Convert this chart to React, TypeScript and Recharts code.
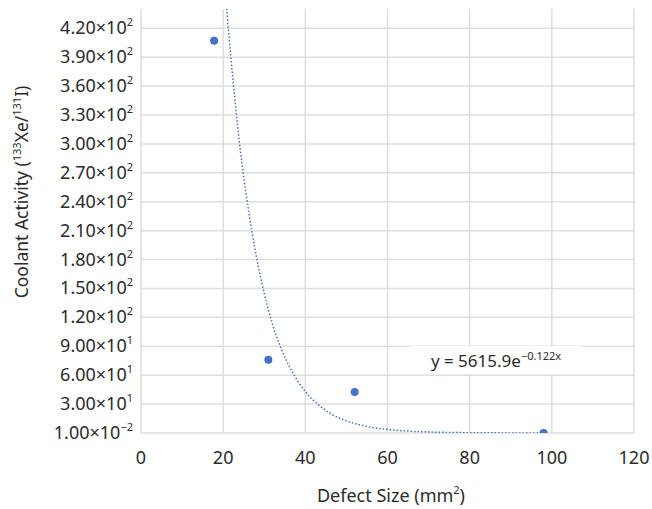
import { ComposedChart, Scatter, Line, XAxis, YAxis, CartesianGrid, Customized } from 'recharts';

const points = [
  { x: 17.8, y: 407 },
  { x: 31, y: 76 },
  { x: 52, y: 42.5 },
  { x: 98, y: 0.01 },
];

// exponential trendline, y = 5615.9e^-0.122x
const trend = [
  { x: 20.8, y: 444 }, { x: 21, y: 433 }, { x: 22, y: 384 }, { x: 23, y: 340 }, { x: 24, y: 300 },
  { x: 26, y: 236 }, { x: 28, y: 185 }, { x: 30, y: 145 }, { x: 32, y: 113 },
  { x: 34, y: 89 }, { x: 36, y: 70 }, { x: 38, y: 55 }, { x: 40, y: 43 },
  { x: 43, y: 30 }, { x: 46, y: 20.5 }, { x: 50, y: 12.6 }, { x: 55, y: 6.8 },
  { x: 60, y: 3.7 }, { x: 65, y: 2.0 }, { x: 70, y: 1.1 }, { x: 80, y: 0.32 },
  { x: 90, y: 0.1 }, { x: 98, y: 0.04 },
];

const xTicks = [0, 20, 40, 60, 80, 100, 120];
const yTicks = [0.01, 30, 60, 90, 120, 150, 180, 210, 240, 270, 300, 330, 360, 390, 420];

const FONT = '"Noto Sans", sans-serif';
const TXT = '#2b2b2b';
const BLUE = '#4472C4';

const YTick = ({ x, y, payload }: any) => {
  const [m, e] = Number(payload.value).toExponential(2).split('e');
  const exp = String(Number(e)).replace('-', '−');
  return (
    <text x={x} y={y} dy={6} textAnchor="end" fontSize={18} fill={TXT} fontFamily={FONT}>
      <tspan>{m}×10</tspan>
      <tspan dy={-8} fontSize={11}>{exp}</tspan>
    </text>
  );
};

const Annotations = () => (
  <g fontFamily={FONT} fill={TXT}>
    <rect x={409} y={346} width={174} height={28} fill="#fff" />
    <text x={496} y={367} textAnchor="middle" fontSize={17}>
      <tspan>y = 5615.9e</tspan>
      <tspan dy={-7} fontSize={11}>−0.122x</tspan>
    </text>
    <text x={391} y={502} textAnchor="middle" fontSize={18}>
      <tspan>Defect Size (mm</tspan>
      <tspan dy={-8} fontSize={11}>2</tspan>
      <tspan dy={8}>)</tspan>
    </text>
    <text transform="translate(28,192) rotate(-90)" textAnchor="middle" fontSize={17.5}>
      <tspan>Coolant Activity (</tspan>
      <tspan dy={-7} fontSize={11}>133</tspan>
      <tspan dy={7}>Xe/</tspan>
      <tspan dy={-7} fontSize={11}>131</tspan>
      <tspan dy={7}>I)</tspan>
    </text>
  </g>
);

export default function App() {
  return (
    <div style={{ position: 'absolute', left: 0, top: 0, background: '#fff' }}>
      <ComposedChart width={652} height={509} margin={{ top: 9, right: 18, bottom: 46, left: 0 }}>
        <CartesianGrid stroke="#dedede" strokeWidth={1.5} horizontalValues={yTicks} verticalValues={xTicks} />
        <XAxis
          type="number"
          dataKey="x"
          domain={[0, 120]}
          ticks={xTicks}
          axisLine={false}
          tickLine={false}
          height={30}
          tickMargin={12}
          tick={{ fontSize: 18, fill: TXT, fontFamily: FONT }}
        />
        <YAxis
          type="number"
          dataKey="y"
          domain={[0.01, 440]}
          ticks={yTicks}
          allowDataOverflow
          axisLine={false}
          tickLine={false}
          width={141}
          tick={<YTick />}
        />
        <Line
          data={trend}
          dataKey="y"
          type="monotone"
          stroke={BLUE}
          strokeWidth={1.5}
          strokeDasharray="1.5 2"
          dot={false}
          isAnimationActive={false}
        />
        <Scatter data={points} dataKey="y" fill={BLUE} shape={(p: any) => <circle cx={p.cx} cy={p.cy} r={4} fill={BLUE} />} isAnimationActive={false} />
        <Customized component={Annotations} />
      </ComposedChart>
    </div>
  );
}
